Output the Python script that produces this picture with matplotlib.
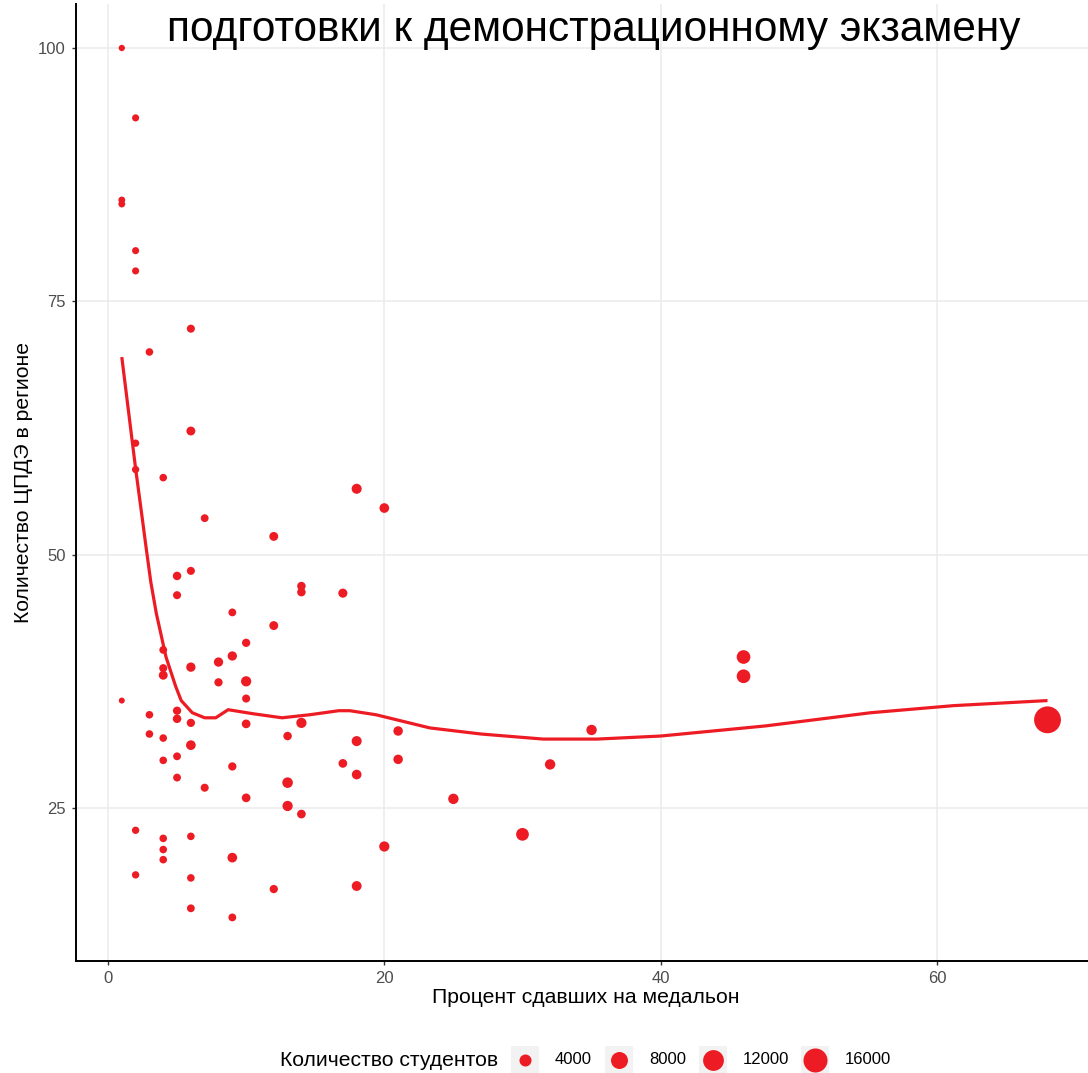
import matplotlib
matplotlib.use("Agg")
import matplotlib.pyplot as plt
from matplotlib import font_manager
from matplotlib.patches import Rectangle

# percent of medal passes, number of exam centres in region, number of students
pct = [1, 1, 1, 1,
       2, 2, 2, 2, 2, 2, 2,
       3, 3, 3,
       4, 4, 4, 4, 4, 4, 4, 4, 4,
       5, 5, 5, 5, 5, 5,
       6, 6, 6, 6, 6, 6, 6, 6, 6,
       7, 7,
       8, 8,
       9, 9, 9, 9, 9,
       10, 10, 10, 10, 10,
       12, 12, 12,
       13, 13, 13,
       14, 14, 14, 14,
       17, 17,
       18, 18, 18, 18,
       20, 20,
       21, 21,
       25, 30, 32, 35, 46, 46, 68]
centres = [100, 85.0, 84.6, 35.6,
           93.1, 80, 78, 61, 58.4, 22.8, 18.4,
           70, 34.2, 32.3,
           57.6, 40.6, 38.8, 38.1, 31.9, 29.7, 22.0, 20.9, 19.9,
           47.9, 46.0, 34.6, 33.8, 30.1, 28.0,
           72.3, 62.2, 48.4, 38.9, 33.4, 31.2, 22.2, 18.1, 15.1,
           53.6, 27.0,
           39.4, 37.4,
           44.3, 40.0, 29.1, 20.1, 14.2,
           41.3, 37.5, 35.8, 33.3, 26.0,
           51.8, 43.0, 17.0,
           32.1, 27.5, 25.2,
           46.9, 46.3, 33.4, 24.4,
           46.2, 29.4,
           56.5, 31.6, 28.3, 17.3,
           54.6, 21.2,
           32.6, 29.8,
           25.9, 22.4, 29.3, 32.7, 39.9, 38.0, 33.7]
students = [1100, 1300, 1300, 1000,
            1400, 1400, 1400, 1500, 1500, 1500, 1500,
            1600, 1600, 1600,
            1600, 1700, 1800, 2200, 1600, 1600, 1600, 1600, 1600,
            2000, 1800, 1900, 2000, 1700, 1700,
            1800, 2200, 1800, 2400, 1900, 2600, 1600, 1600, 1700,
            1700, 1800,
            2400, 1900,
            1700, 2400, 1900, 2600, 1700,
            1900, 2900, 1800, 2100, 2100,
            2200, 2200, 1900,
            2000, 3100, 2900,
            2000, 2000, 2900, 2100,
            2300, 2100,
            2800, 2800, 2600, 2700,
            2600, 2900,
            2500, 2500,
            3000, 4500, 3000, 3000, 5200, 5200, 20000]

# smoothed trend
smooth_x = [1, 1.5, 2, 2.5, 2.75, 3.1, 3.5, 4.2, 4.9, 5.3, 6.1, 7, 7.8, 8.7,
            10.5, 12.6, 14.6, 16.7, 17.5, 19.4, 23.3, 27, 31.5, 35.4, 40,
            47.6, 55.2, 61.2, 68]
smooth_y = [69.5, 64.0, 58.5, 53.4, 50.8, 47.3, 44.2, 39.9, 37.0, 35.6, 34.4,
            33.9, 33.9, 34.7, 34.3, 33.9, 34.2, 34.6, 34.6, 34.2, 32.9, 32.3,
            31.8, 31.8, 32.1, 33.1, 34.4, 35.1, 35.6]

legend_values = [4000, 8000, 12000, 16000]
legend_labels = ["4000", "8000", "12000", "16000"]

title_text = "подготовки к демонстрационному экзамену"
x_title = "Процент сдавших на медальон"
y_title = "Количество ЦПДЭ в регионе"
size_title = "Количество студентов"

RED = "#ED1C24"
SIZE_SCALE = 0.0187  # points^2 per student

installed = {f.name for f in font_manager.fontManager.ttflist}
plt.rcParams["font.family"] = ["Liberation Sans", "DejaVu Sans"]

W, H = 1088, 1073
fig = plt.figure(figsize=(W / 100, H / 100), dpi=100)

# panel in pixel terms, converted to figure fractions
left, right, top, bottom = 75.5, 1093.8, 4.4, 961.0
ax = fig.add_axes([left / W, 1 - bottom / H, (right - left) / W, (bottom - top) / H])

ax.set_xlim(-2.35, 71.35)
ax.set_ylim(9.9, 104.3)
ax.set_xticks([0, 20, 40, 60])
ax.set_yticks([25, 50, 75, 100])
ax.grid(True, color="#EBEBEB", linewidth=1.1)
ax.set_axisbelow(True)
for side in ["top", "right"]:
    ax.spines[side].set_visible(False)
for side in ["left", "bottom"]:
    ax.spines[side].set_color("black")
    ax.spines[side].set_linewidth(1.4)
ax.tick_params(length=3, width=1, color="#333333", labelcolor="#4D4D4D",
               labelsize=12, pad=4)

ax.scatter(pct, centres, s=[v * SIZE_SCALE for v in students], color=RED,
           linewidths=0, zorder=3)
ax.plot(smooth_x, smooth_y, color=RED, linewidth=2.3, zorder=4,
        solid_capstyle="butt")

ax.set_xlabel(x_title, fontsize=15.2, color="black")
ax.set_ylabel(y_title, fontsize=15.2, color="black")
ax.xaxis.set_label_coords(0.5 + (586 - 584.6) / (right - left), -(988 - bottom) / (bottom - top))
ax.yaxis.set_label_coords(-(left - 33) / (right - left), 0.5)

# title (only the last line is visible in the frame)
if "Liberation Sans Narrow" in installed:
    fig.text(593.5 / W, 1 - 41 / H, title_text, fontsize=40,
             family=["Liberation Sans Narrow", "DejaVu Sans"],
             ha="center", va="baseline")
else:
    fig.text(593.5 / W, 1 - 41 / H, title_text, fontsize=30.5,
             ha="center", va="baseline")

# size legend along the bottom
lax = fig.add_axes([0, 0, 1, 1], zorder=-1)
lax.set_xlim(0, W)
lax.set_ylim(H, 0)
lax.axis("off")
lax.text(280, 1060, size_title, fontsize=15.2, ha="left", va="center")
key_x = [525, 619, 713, 815]
for kx, val, lab in zip(key_x, legend_values, legend_labels):
    lax.add_patch(Rectangle((kx - 14, 1046), 28, 28, color="#F2F2F2", linewidth=0))
    lax.scatter([kx], [1060], s=val * SIZE_SCALE, color=RED, linewidths=0)
    lax.text(kx + 30, 1060, lab, fontsize=12, ha="left", va="center")

fig.savefig("out.png", dpi=100)
